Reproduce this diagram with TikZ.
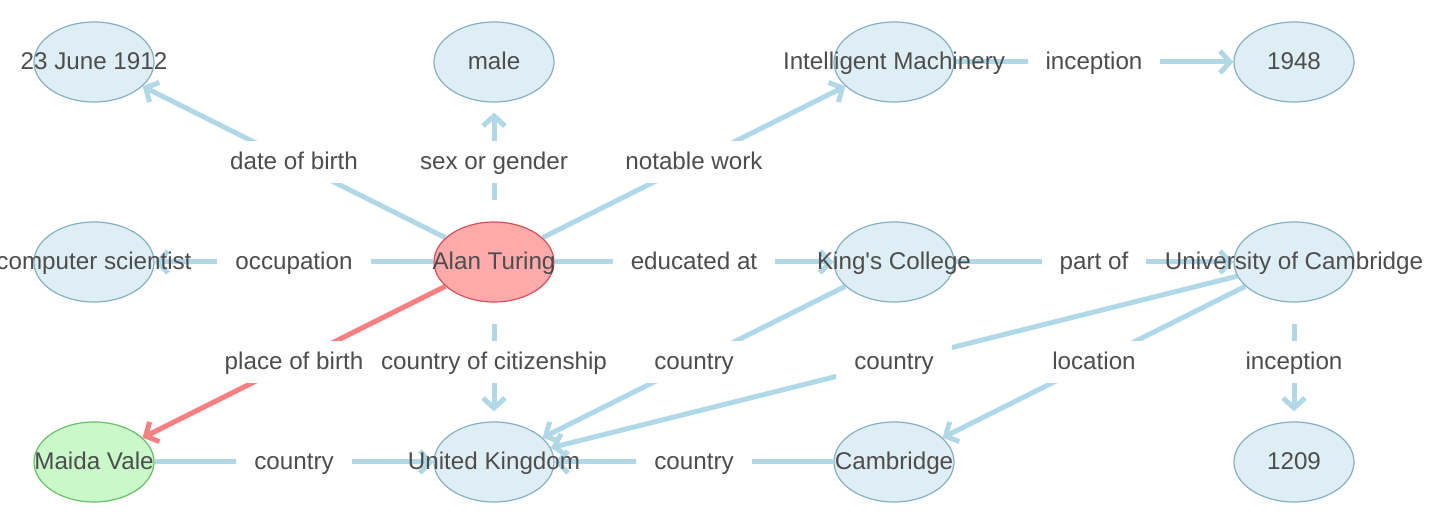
\documentclass[tikz,border=0pt]{standalone}
\usepackage{fontspec}
\setmainfont{Liberation Sans}
\usetikzlibrary{shapes.geometric,arrows.meta,backgrounds}
\definecolor{edgeblue}{RGB}{176,216,230}
\definecolor{edgered}{RGB}{250,128,128}
\definecolor{nodefill}{RGB}{222,238,244}
\definecolor{nodeline}{RGB}{132,176,194}
\definecolor{redfill}{RGB}{255,170,170}
\definecolor{redline}{RGB}{214,80,90}
\definecolor{greenfill}{RGB}{201,248,201}
\definecolor{greenline}{RGB}{104,192,104}
\definecolor{txt}{RGB}{77,77,77}
\newcommand{\nm}[1]{\makebox[0pt]{#1}}

\begin{document}
\begin{tikzpicture}[x=0.5pt,y=-0.5pt,
    ent/.style={ellipse,draw=nodeline,fill=nodefill,line width=0.6pt,minimum width=60pt,minimum height=40pt,inner sep=0pt,text height=10pt,text depth=2pt,text=txt,font=\fontsize{12.1}{14}\selectfont},
    focus/.style={ent,draw=redline,fill=redfill},
    birth/.style={ent,draw=greenline,fill=greenfill},
    lab/.style={fill=white,text=txt,inner xsep=9pt,inner ysep=4.5pt,text height=10pt,text depth=2pt,font=\fontsize{12.1}{14}\selectfont},
    rel/.style={draw=edgeblue,line width=2.5pt,-{Straight Barb[length=5pt,width=11pt]}},
    vert/.style={rel,shorten <=10.5pt,shorten >=5pt},
    redrel/.style={rel,draw=edgered}]
  \useasboundingbox (0,0) rectangle (1436,528);
  \node [ent] (dob) at (94,62) {\nm{23 June 1912}};
  \node [ent] (male) at (494,62) {\nm{male}};
  \node [ent] (im) at (894,62) {\nm{Intelligent Machinery}};
  \node [ent] (y48) at (1294,62) {\nm{1948}};
  \node [ent] (cs) at (94,262) {\nm{computer scientist}};
  \node [focus] (at) at (494,262) {\nm{Alan Turing}};
  \node [ent] (kc) at (894,262) {\nm{King\textquotesingle s College}};
  \node [ent] (uc) at (1294,262) {\nm{University of Cambridge}};
  \node [birth] (mv) at (94,462) {\nm{Maida Vale}};
  \node [ent] (uk) at (494,462) {\nm{United Kingdom}};
  \node [ent] (cam) at (894,462) {\nm{Cambridge}};
  \node [ent] (y09) at (1294,462) {\nm{1209}};
  \begin{scope}[on background layer]
    \draw [rel] (at) -- node [lab] {date of birth} (dob);
    \draw [vert] (at) -- node [lab] {sex or gender} (male);
    \draw [rel] (at) -- node [lab] {notable work} (im);
    \draw [rel] (im) -- node [lab] {inception} (y48);
    \draw [rel] (at) -- node [lab] {occupation} (cs);
    \draw [rel] (at) -- node [lab] {educated at} (kc);
    \draw [rel] (kc) -- node [lab] {part of} (uc);
    \draw [redrel] (at) -- node [lab] {place of birth} (mv);
    \draw [vert] (at) -- node [lab] {country of citizenship} (uk);
    \draw [rel] (kc) -- node [lab] {country} (uk);
    \draw [rel] (uc) -- node [lab] {country} (uk);
    \draw [rel] (uc) -- node [lab] {location} (cam);
    \draw [vert] (uc) -- node [lab] {inception} (y09);
    \draw [rel] (mv) -- node [lab] {country} (uk);
    \draw [rel] (cam) -- node [lab] {country} (uk);
  \end{scope}
\end{tikzpicture}
\end{document}
